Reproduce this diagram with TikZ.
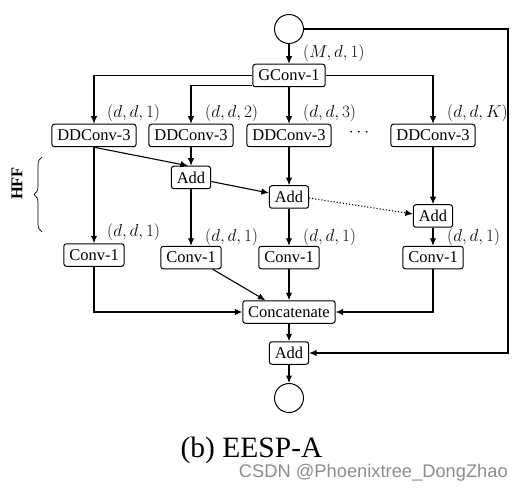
\documentclass[tikz,border=0pt]{standalone}
\usepackage[no-math]{fontspec}
\setmainfont{Liberation Serif}
\newfontfamily\wmfont{Liberation Sans}
\usetikzlibrary{arrows.meta,decorations.pathreplacing}
\begin{document}
\begin{tikzpicture}[x=1pt,y=-1pt,
  font=\fontsize{16.5}{19}\selectfont,
  box/.style={draw,line width=1pt,rounded corners=2.5pt,fill=white,
    minimum height=22.5pt,inner xsep=5.4pt,inner ysep=0pt},
  circ/.style={draw,line width=1pt,circle,minimum size=29pt,inner sep=0pt},
  arr/.style={line width=1.1pt,-{Latex[length=7.5pt,width=6.5pt]}},
  lbl/.style={anchor=west,inner sep=0pt,text=black!95!brown}
]
\useasboundingbox (0,0) rectangle (524,494);

% nodes
\node[circ] (in) at (289,29) {};
\node[box] (gconv) at (289,75.5) {GConv-1};
\node[box] (dd1) at (94,135.5) {DDConv-3};
\node[box] (dd2) at (191,135.5) {DDConv-3};
\node[box] (dd3) at (289,135.5) {DDConv-3};
\node[box] (dd4) at (433,135.5) {DDConv-3};
\node (dots) at (359,133) {$\cdots$};
\node[box] (add1) at (191,177.5) {Add};
\node[box] (add2) at (289,197) {Add};
\node[box] (add3) at (433,216) {Add};
\node[box] (c1) at (94,255) {Conv-1};
\node[box] (c2) at (191,257.5) {Conv-1};
\node[box] (c3) at (289,257.5) {Conv-1};
\node[box] (c4) at (433,257.5) {Conv-1};
\node[box] (cat) at (289,312) {Concatenate};
\node[box] (addf) at (289,353) {Add};
\node[circ] (out) at (289,398) {};
\coordinate (rc) at (508,29);

% labels
\node[lbl] (l0) at (303,53) {$(M,d,1)$};
\node[lbl] (l1) at (107,113) {$(d,d,1)$};
\node[lbl] (l2) at (205,113) {$(d,d,2)$};
\node[lbl] (l3) at (303,113) {$(d,d,3)$};
\node[lbl] (l4) at (447,113) {$(d,d,K)$};
\node[lbl] (m1) at (107,232) {$(d,d,1)$};
\node[lbl] (m2) at (205,237) {$(d,d,1)$};
\node[lbl] (m3) at (303,237) {$(d,d,1)$};
\node[lbl] (m4) at (447,237) {$(d,d,1)$};

% HFF brace
\draw[line width=0.7pt,decorate,decoration={brace,amplitude=8pt}] (42,232) -- (42,157);
\node[rotate=90,font=\fontsize{16.5}{19}\selectfont\bfseries] (hff) at (17,183.5) {HFF};

% connectors
\draw[arr] (in) -- (gconv);
\draw[arr] (gconv.west) -| (dd1.north);
\draw[arr] ([yshift=1.5pt]gconv.south west) -| (dd2.north);
\draw[arr] (gconv) -- (dd3);
\draw[arr] (gconv.east) -| (dd4.north);

\draw[arr] (dd1.south) -- ([xshift=-3pt]add1.north);
\draw[arr] (dd2) -- (add1);
\draw[arr] (dd3) -- (add2);
\draw[arr] (dd4) -- (add3);
\draw[arr] ([yshift=-4pt]add1.east) -- ([yshift=4pt]add2.west);
\draw[arr,dotted] ([yshift=-1pt]add2.east) -- ([yshift=2pt]add3.west);

\draw[arr] (dd1) -- (c1);
\draw[arr] (add1) -- (c2);
\draw[arr] (add2) -- (c3);
\draw[arr] (add3) -- (c4);

\draw[arr] (c1.south) |- (cat.west);
\draw[arr] ([xshift=-9pt]c2.south east) -- ([xshift=23pt]cat.north west);
\draw[arr] (c3) -- (cat);
\draw[arr] (c4.south) |- (cat.east);
\draw[arr] (cat) -- (addf);
\draw[arr] (in.east) -- (rc) |- (addf.east);
\draw[arr] (addf) -- (out);

% caption
\node[font=\fontsize{29.5}{34}\selectfont] (cap) at (251.5,450) {(b) EESP-A};
\node[font=\wmfont\fontsize{18.3}{21}\selectfont,text=black!45,anchor=east,inner sep=0pt] (wm) at (508,473) {CSDN @Phoenixtree\_DongZhao};
\end{tikzpicture}
\end{document}
